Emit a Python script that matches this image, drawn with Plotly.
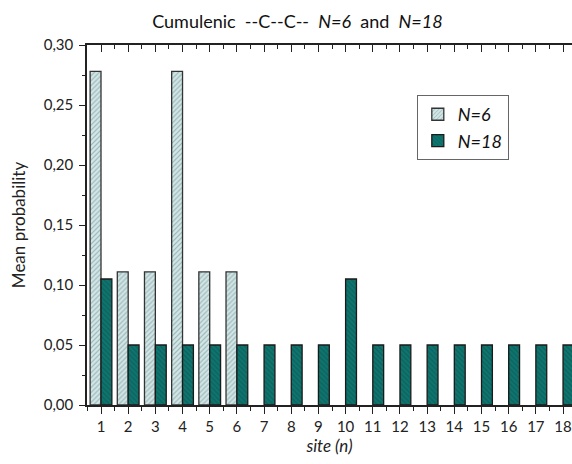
import plotly.graph_objects as go

sites_6 = [1, 2, 3, 4, 5, 6]
prob_6 = [0.278, 0.111, 0.111, 0.278, 0.111, 0.111]
sites_18 = list(range(1, 19))
prob_18 = [0.105, 0.05, 0.05, 0.05, 0.05, 0.05, 0.05, 0.05, 0.05,
           0.105, 0.05, 0.05, 0.05, 0.05, 0.05, 0.05, 0.05, 0.05]
tick_sites = list(range(1, 19))

FONT = "Lato"
AX = "#222222"

fig = go.Figure()
fig.add_trace(go.Bar(
    x=sites_6, y=prob_6, name="<i>N=6</i>",
    marker=dict(color="#d2e8e8", line=dict(color="#333333", width=1.3),
                pattern=dict(shape="/", fgcolor="#6f8686", size=3.5, solidity=0.35)),
))
fig.add_trace(go.Bar(
    x=sites_18, y=prob_18, name="<i>N=18</i>",
    marker=dict(color="#0b7770", line=dict(color="#1a1a1a", width=1.3),
                pattern=dict(shape="\\", fgcolor="#1c4543", size=3.5, solidity=0.35)),
))
# invisible helper trace for top axis
fig.add_trace(go.Scatter(x=[1], y=[None], xaxis="x2", showlegend=False, hoverinfo="skip"))

fig.update_layout(
    width=572, height=464,
    margin=dict(l=87, r=0, t=45, b=59),
    paper_bgcolor="white", plot_bgcolor="white",
    separators=",.",
    barmode="group", bargap=0.2, bargroupgap=0.0,
    font=dict(family=FONT, size=15, color="#222222"),
    title=dict(text="Cumulenic  --C--C--  <i>N=6</i>  and  <i>N=18</i>",
               x=0.52, xanchor="center", y=0.953, yanchor="middle",
               font=dict(family=FONT, size=18, color="#111111")),
    xaxis=dict(range=[0.485, 18.33], tickvals=tick_sites, ticktext=[str(s) for s in tick_sites],
               showline=True, linecolor=AX, linewidth=1.5, ticks="outside", ticklen=7,
               tickwidth=1.3, tickcolor=AX, showgrid=False, zeroline=False,
               minor=dict(ticks="outside", dtick=0.5, tick0=0.5, ticklen=4, tickcolor=AX, tickwidth=1.2),
               title=dict(text="<i>site (n)</i>", font=dict(size=17), standoff=0),
               tickfont=dict(size=15)),
    xaxis2=dict(range=[0.485, 18.33], overlaying="x", side="top", anchor="y",
                showline=True, linecolor=AX, linewidth=1.5, ticks="inside", ticklen=7,
                tickwidth=1.3, tickcolor=AX, showgrid=False, zeroline=False, showticklabels=False,
                tickvals=tick_sites,
                minor=dict(ticks="inside", dtick=0.5, tick0=0.5, ticklen=4, tickcolor=AX, tickwidth=1.2)),
    yaxis=dict(range=[0, 0.30], dtick=0.05, tick0=0, tickformat=".2f",
               showline=True, linecolor=AX, linewidth=1.5, ticks="outside", ticklen=6,
               tickwidth=1.3, tickcolor=AX, showgrid=False, zeroline=False,
               minor=dict(ticks="outside", dtick=0.025, ticklen=3, tickcolor=AX, tickwidth=1.2),
               ticklabelstandoff=3,
               title=dict(text="Mean probability", font=dict(size=17), standoff=14),
               tickfont=dict(size=15)),
    legend=dict(x=0.68, y=0.861, xanchor="left", yanchor="top",
                bordercolor="#666666", borderwidth=1, bgcolor="white",
                font=dict(size=18, color="#111111"), itemwidth=30,
                tracegroupgap=0),
)

fig.write_html("out.html")
